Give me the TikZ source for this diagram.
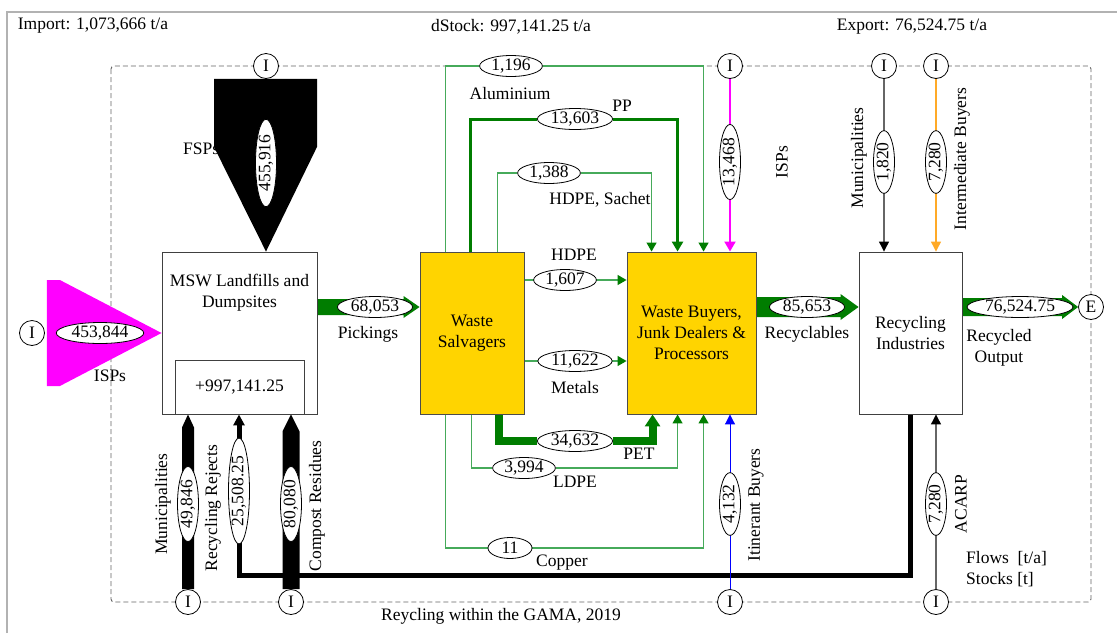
\documentclass[tikz,border=0pt]{standalone}
\usepackage{fontspec}
\setmainfont{Liberation Serif}
\usetikzlibrary{shapes.geometric, arrows.meta, calc}

\definecolor{flowgreen}{RGB}{0,125,0}
\definecolor{litegreen}{RGB}{70,170,90}
\definecolor{salvgold}{RGB}{255,212,0}
\definecolor{ispmag}{RGB}{255,0,255}
\definecolor{midorange}{RGB}{255,170,40}
\definecolor{bndgray}{RGB}{100,100,100}
\pgfdeclarelayer{bg}
\pgfsetlayers{bg,main}

\begin{document}
\begin{tikzpicture}[x=1pt, y=-1pt,
    every node/.style={font=\fontsize{17.5}{21}\selectfont},
    proc/.style={rectangle, draw=black!75, line width=0.9pt, minimum height=162pt, align=center},
    salvbox/.style={proc, fill=salvgold, draw=black!70},
    val/.style={ellipse, draw, fill=white, line width=0.8pt, inner xsep=2.5pt, inner ysep=0pt, minimum height=21pt, minimum width=44pt},
    vval/.style={val, rotate=90},
    port/.style={circle, draw, fill=white, line width=0.8pt, minimum size=25pt, inner sep=0pt},
    tag/.style={inner sep=0pt},
    vtag/.style={tag, rotate=90},
    thinflow/.style={draw=litegreen, line width=1.3pt, -{Triangle[length=9pt, width=10pt, color=flowgreen]}},
    ppflow/.style={draw=flowgreen, line width=3pt, miter limit=4, -{Triangle[length=10pt, width=11pt]}},
    petflow/.style={draw=flowgreen, line width=8pt, -{Triangle[length=12pt, width=15pt]}},
    rejflow/.style={draw=black, line width=5pt, -{Triangle[length=11pt, width=11pt]}},
    magline/.style={draw=ispmag, line width=2pt, -{Triangle[length=10pt, width=11pt]}},
    grayline/.style={draw=black!60, line width=1.2pt, -{Triangle[length=10pt, width=10pt, color=black]}},
    orangeline/.style={draw=midorange, line width=1.2pt, -{Triangle[length=10pt, width=10pt]}},
    blueline/.style={draw=blue, line width=1pt, -{Triangle[length=10pt, width=10pt]}}
  ]
  \useasboundingbox (0,0) rectangle (1117,633);

  % Processes
  \node[proc, minimum width=155pt] (msw) at (239.5,333) {};
  \node[tag, align=center] (mswTxt) at (239.5,293) {MSW Landfills and\\Dumpsites};
  \node[proc, minimum width=129pt, minimum height=54pt] (stock) at (239.5,387) {+997,141.25};
  \node[salvbox, minimum width=104pt] (salv) at (472,333) {Waste\\Salvagers};
  \node[salvbox, minimum width=129pt] (buyers) at (691.5,333) {Waste Buyers,\\Junk Dealers \&\\Processors};
  \node[proc, minimum width=103pt] (recind) at (910.5,333) {Recycling\\Industries};

  % Import / export ports
  \node[port] (iFsp) at (266,66) {I};
  \node[port] (iIspTop) at (730,66) {I};
  \node[port] (iMunRI) at (884,66) {I};
  \node[port] (iInter) at (936,66) {I};
  \node[port] (iIsp) at (32,333) {I};
  \node[port] (iMun) at (188,602) {I};
  \node[port] (iComp) at (291,602) {I};
  \node[port] (iItin) at (730,602) {I};
  \node[port] (iAcarp) at (936,602) {I};
  \node[port] (eOut) at (1091,307) {E};

  % Flow values
  \node[vval] (vFsp) at (266,163) {455,916};
  \node[val] (vIsp) at (100,333) {453,844};
  \node[val] (vPick) at (375,307) {68,053};
  \node[val] (vAlu) at (511,66) {1,196};
  \node[val] (vPP) at (575,119) {13,603};
  \node[val] (vSachet) at (549,173) {1,388};
  \node[val] (vHdpe) at (565,280) {1,607};
  \node[val] (vMetal) at (575,361) {11,622};
  \node[val] (vPet) at (575,441) {34,632};
  \node[val] (vLdpe) at (524,468) {3,994};
  \node[val] (vCopper) at (510,548) {11};
  \node[vval] (vIspTop) at (730,162) {13,468};
  \node[val] (vRecyc) at (807,307) {85,653};
  \node[vval] (vMunRI) at (884,162) {1,820};
  \node[vval] (vInter) at (936,162) {7,280};
  \node[val] (vOut) at (1020,307) {76,524.75};
  \node[vval] (vItin) at (730,504) {4,132};
  \node[vval] (vAcarp) at (936,504) {7,280};
  \node[vval] (vMun) at (188,504) {49,846};
  \node[vval] (vRej) at (239,491) {25,508.25};
  \node[vval] (vComp) at (291,504) {80,080};

  % Labels
  \node[tag] (impTxt) at (93,26) {Import: 1,073,666 t/a};
  \node[tag] (dstTxt) at (511,27) {dStock: 997,141.25 t/a};
  \node[tag] (expTxt) at (912,27) {Export: 76,524.75 t/a};
  \node[tag] (ispTxt) at (110,376) {ISPs};
  \node[tag] (pickTxt) at (368,334) {Pickings};
  \node[tag] (aluTxt) at (510,94) {Aluminium};
  \node[tag] (ppTxt) at (622,106) {PP};
  \node[tag] (sachetTxt) at (600,200) {HDPE, Sachet};
  \node[tag] (hdpeTxt) at (574,255) {HDPE};
  \node[tag] (metalTxt) at (575,388) {Metals};
  \node[tag] (petTxt) at (639,454) {PET};
  \node[tag] (ldpeTxt) at (575,482) {LDPE};
  \node[tag] (copperTxt) at (562,563) {Copper};
  \node[tag] (recycTxt) at (807,334) {Recyclables};
  \node[tag, align=center] (outTxt) at (999,348) {Recycled\\Output};
  \node[vtag] (ispTopTxt) at (782,162) {ISPs};
  \node[vtag] (munRITxt) at (859,158) {Municipalities};
  \node[vtag] (interTxt) at (962,159) {Intermediate Buyers};
  \node[vtag] (itinTxt) at (756,505) {Itinerant Buyers};
  \node[vtag] (acarpTxt) at (961,504) {ACARP};
  \node[vtag] (munTxt) at (163,504) {Municipalities};
  \node[vtag] (rejTxt) at (213,508) {Recycling Rejects};
  \node[tag, align=left, anchor=west] (unitTxt) at (966,569.5) {Flows\enspace[t/a]\\Stocks [t]};
  \node[tag] (titleTxt) at (501,616) {Reycling within the GAMA, 2019};

  \begin{pgfonlayer}{bg}
    % frame and system boundary
    \draw[black!30, line width=1.5pt] (7,633) -- (7,12) -- (1117,12);
    \draw[bndgray, line width=0.9pt, dash pattern=on 5pt off 3pt, rounded corners=3pt] (111,66) rectangle (1091,602);

    % imports into the landfills
    \node[tag, anchor=west] (fspTxt) at (183,149) {FSPs};
    \fill[black] ($(iFsp.south)+(-52,0)$) -- ($(iFsp.south)+(51,0)$) -- ($(iFsp.south)+(51,68)$)
      -- (msw.north -| iFsp) -- ($(iFsp.south)+(-52,68)$) -- cycle;
    \fill[ispmag] ($(iIsp.east)+(2,-53)$) -- ($(iIsp.east)+(15,-53)$) -- (msw.west)
      -- ($(iIsp.east)+(15,53)$) -- ($(iIsp.east)+(2,53)$) -- cycle;

    % wide flows
    \fill[flowgreen] ($(msw.east |- vPick)+(0,-8)$) -- ($(salv.west |- vPick)+(-16,-8)$) -- ($(salv.west |- vPick)+(-16,-11)$)
      -- (salv.west |- vPick) -- ($(salv.west |- vPick)+(-16,11)$) -- ($(salv.west |- vPick)+(-16,8)$) -- ($(msw.east |- vPick)+(0,8)$) -- cycle;
    \fill[flowgreen] ($(buyers.east |- vRecyc)+(0,-10)$) -- ($(recind.west |- vRecyc)+(-18,-10)$) -- ($(recind.west |- vRecyc)+(-18,-13)$)
      -- (recind.west |- vRecyc) -- ($(recind.west |- vRecyc)+(-18,13)$) -- ($(recind.west |- vRecyc)+(-18,10)$) -- ($(buyers.east |- vRecyc)+(0,10)$) -- cycle;
    \fill[flowgreen] ($(recind.east |- vOut)+(0,-9)$) -- ($(eOut.west)+(-16,-9)$) -- ($(eOut.west)+(-16,-12)$)
      -- (eOut.west) -- ($(eOut.west)+(-16,12)$) -- ($(eOut.west)+(-16,9)$) -- ($(recind.east |- vOut)+(0,9)$) -- cycle;
    \fill[black] ($(iMun.north)+(-6,0)$) -- ($(msw.south -| iMun)+(-6,13)$) -- (msw.south -| iMun)
      -- ($(msw.south -| iMun)+(6,13)$) -- ($(iMun.north)+(6,0)$) -- cycle;

    % rejects back to the dumpsites
    \node[vtag] (compTxt) at (317,506) {Compost Residues};
    \coordinate (rejBend) at (239,575);
    \draw[rejflow] (recind.south) |- (rejBend) -- (msw.south -| rejBend);
    \fill[black] ($(iComp.north)+(-8.5,0)$) -- ($(msw.south -| iComp)+(-8.5,17)$) -- (msw.south -| iComp)
      -- ($(msw.south -| iComp)+(8.5,17)$) -- ($(iComp.north)+(8.5,0)$) -- cycle;

    % salvagers to buyers
    \draw[thinflow] ($(salv.north west)+(26,0)$) |- (vAlu) -| ($(buyers.north west)+(77,0)$);
    \draw[ppflow] ($(salv.north west)+(51,0)$) |- (vPP) -| ($(buyers.north west)+(51,0)$);
    \draw[thinflow] ($(salv.north west)+(78,0)$) |- (vSachet) -| ($(buyers.north west)+(25,0)$);
    \draw[thinflow] (salv.east |- vHdpe) -- (buyers.west |- vHdpe);
    \draw[thinflow] (salv.east |- vMetal) -- (buyers.west |- vMetal);
    \draw[petflow] ($(salv.south west)+(79,0)$) |- (vPet) -| ($(buyers.south west)+(26,0)$);
    \draw[thinflow] ($(salv.south west)+(52,0)$) |- (vLdpe) -| ($(buyers.south west)+(51,0)$);
    \draw[thinflow] ($(salv.south west)+(26,0)$) |- (vCopper) -| ($(buyers.south west)+(77,0)$);

    % other imports
    \draw[magline] (iIspTop.south) -- (buyers.north -| iIspTop);
    \draw[grayline] (iMunRI.south) -- (recind.north -| iMunRI);
    \draw[orangeline] (iInter.south) -- (recind.north -| iInter);
    \draw[blueline] (iItin.north) -- (buyers.south -| iItin);
    \draw[grayline] (iAcarp.north) -- (recind.south -| iAcarp);
  \end{pgfonlayer}
\end{tikzpicture}
\end{document}
